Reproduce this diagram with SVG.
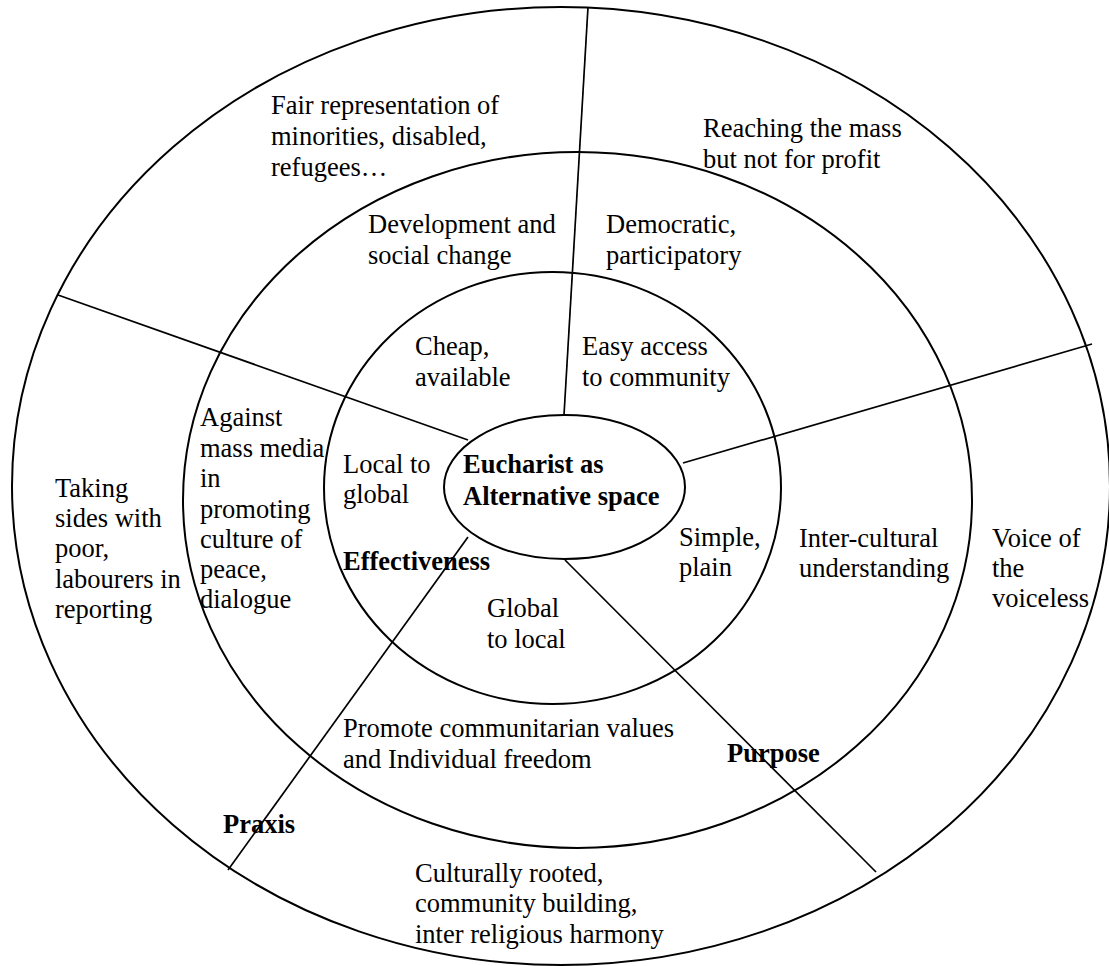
<svg xmlns="http://www.w3.org/2000/svg" width="1109" height="966" viewBox="0 0 1109 966">
<style>
.ring{fill:none;stroke:#000;stroke-width:2}
.ln{stroke:#000;stroke-width:1.7;fill:none}
text{font-family:"Liberation Serif","Times New Roman",serif;font-size:26.5px;fill:#000}
.b{font-weight:bold}
</style>
<rect width="1109" height="966" fill="#fff"/>
<g id="rings">
<ellipse id="outer" class="ring" cx="561" cy="486" rx="549" ry="479"/>
<ellipse id="middle" class="ring" cx="577.5" cy="500" rx="394.5" ry="348"/>
<ellipse id="inner" class="ring" cx="552.5" cy="488" rx="228.5" ry="216"/>
</g>
<g id="connectors">
<line class="ln" x1="564" y1="415" x2="588" y2="7"/>
<line class="ln" x1="468" y1="440" x2="58" y2="295"/>
<line class="ln" x1="683" y1="463" x2="1092" y2="344"/>
<line class="ln" x1="565" y1="560" x2="876" y2="872"/>
<line class="ln" x1="468" y1="537" x2="228" y2="870"/>
</g>
<g id="center">
<ellipse class="ring" cx="564.5" cy="487" rx="120.5" ry="72"/>
<text class="b" x="463" y="473">Eucharist as</text>
<text class="b" x="463" y="505">Alternative space</text>
</g>
<g id="t-fair"><text x="271" y="114">Fair representation of</text><text x="271" y="145">minorities, disabled,</text><text x="271" y="176">refugees…</text></g>
<g id="t-reach"><text x="703" y="137">Reaching the mass</text><text x="703" y="168">but not for profit</text></g>
<g id="t-dev"><text x="368" y="233">Development and</text><text x="368" y="264">social change</text></g>
<g id="t-demo"><text x="606" y="233">Democratic,</text><text x="606" y="264">participatory</text></g>
<g id="t-cheap"><text x="415" y="355">Cheap,</text><text x="415" y="386">available</text></g>
<g id="t-easy"><text x="582" y="355">Easy access</text><text x="582" y="386">to community</text></g>
<g id="t-against"><text x="200" y="426">Against</text><text x="200" y="457">mass media</text><text x="200" y="487">in</text><text x="200" y="518">promoting</text><text x="200" y="548">culture of</text><text x="200" y="578">peace,</text><text x="200" y="608">dialogue</text></g>
<g id="t-taking"><text x="55" y="497">Taking</text><text x="55" y="527">sides with</text><text x="55" y="557">poor,</text><text x="55" y="588">labourers in</text><text x="55" y="618">reporting</text></g>
<g id="t-local"><text x="343" y="473">Local to</text><text x="343" y="503">global</text></g>
<g id="t-eff"><text class="b" x="343" y="570">Effectiveness</text></g>
<g id="t-simple"><text x="679" y="546">Simple,</text><text x="679" y="576">plain</text></g>
<g id="t-inter"><text x="799" y="547">Inter-cultural</text><text x="799" y="577">understanding</text></g>
<g id="t-voice"><text x="992" y="547">Voice of</text><text x="992" y="577">the</text><text x="992" y="607">voiceless</text></g>
<g id="t-global"><text x="487" y="617">Global</text><text x="487" y="648">to local</text></g>
<g id="t-promote"><text x="343" y="737">Promote communitarian values</text><text x="343" y="768">and Individual freedom</text></g>
<g id="t-purpose"><text class="b" x="727" y="762">Purpose</text></g>
<g id="t-praxis"><text class="b" x="223" y="833">Praxis</text></g>
<g id="t-cult"><text x="415" y="882">Culturally rooted,</text><text x="415" y="912">community building,</text><text x="415" y="943">inter religious harmony</text></g>
</svg>
